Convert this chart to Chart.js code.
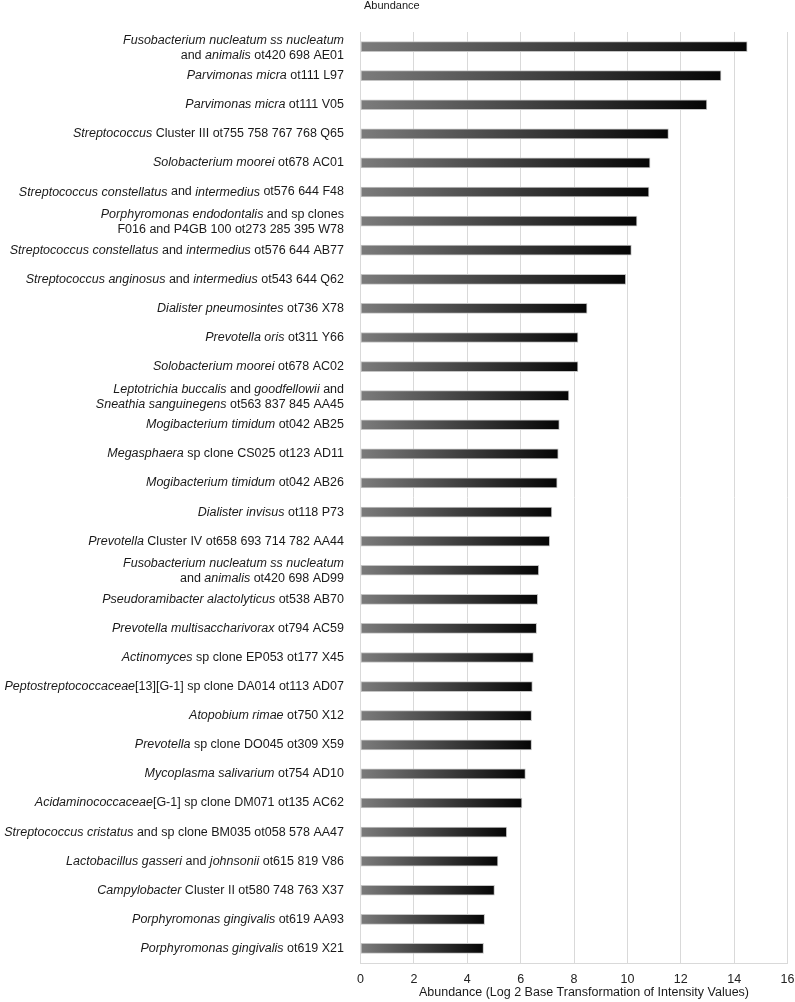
<!DOCTYPE html>
<html>
<head>
<meta charset="utf-8">
<script src="https://cdn.jsdelivr.net/npm/chart.js@4.4.1/dist/chart.umd.min.js"></script>
<style>
  html, body { margin: 0; padding: 0; background: #fff; overflow: hidden; }
  #wrap { width: 795px; height: 1002px; position: relative; }
</style>
</head>
<body>
<div id="wrap"><canvas id="abundanceChart"></canvas></div>
<script>
// Category labels: '|' breaks a line, *text* is italic
const taxa = [
    '*Fusobacterium nucleatum ss nucleatum*|and *animalis* ot420 698 AE01',
    '*Parvimonas micra* ot111 L97',
    '*Parvimonas micra* ot111 V05',
    '*Streptococcus* Cluster III ot755 758 767 768 Q65',
    '*Solobacterium moorei* ot678 AC01',
    '*Streptococcus constellatus* and *intermedius* ot576 644 F48',
    '*Porphyromonas endodontalis* and sp clones|F016 and P4GB 100 ot273 285 395 W78',
    '*Streptococcus constellatus* and *intermedius* ot576 644 AB77',
    '*Streptococcus anginosus* and *intermedius* ot543 644 Q62',
    '*Dialister pneumosintes* ot736 X78',
    '*Prevotella oris* ot311 Y66',
    '*Solobacterium moorei* ot678 AC02',
    '*Leptotrichia buccalis* and *goodfellowii* and|*Sneathia sanguinegens* ot563 837 845 AA45',
    '*Mogibacterium timidum* ot042 AB25',
    '*Megasphaera* sp clone CS025 ot123 AD11',
    '*Mogibacterium timidum* ot042 AB26',
    '*Dialister invisus* ot118 P73',
    '*Prevotella* Cluster IV ot658 693 714 782 AA44',
    '*Fusobacterium nucleatum ss nucleatum*|and *animalis* ot420 698 AD99',
    '*Pseudoramibacter alactolyticus* ot538 AB70',
    '*Prevotella multisaccharivorax* ot794 AC59',
    '*Actinomyces* sp clone EP053 ot177 X45',
    '*Peptostreptococcaceae*[13][G-1] sp clone DA014 ot113 AD07',
    '*Atopobium rimae* ot750 X12',
    '*Prevotella* sp clone DO045 ot309 X59',
    '*Mycoplasma salivarium* ot754 AD10',
    '*Acidaminococcaceae*[G-1] sp clone DM071 ot135 AC62',
    '*Streptococcus cristatus* and sp clone BM035 ot058 578 AA47',
    '*Lactobacillus gasseri* and *johnsonii* ot615 819 V86',
    '*Campylobacter* Cluster II ot580 748 763 X37',
    '*Porphyromonas gingivalis* ot619 AA93',
    '*Porphyromonas gingivalis* ot619 X21'
];

const abundance = [
    14.49, 13.51, 12.98, 11.54, 10.85, 10.81, 10.36, 10.15, 9.94, 8.49, 8.15,
    8.15, 7.81, 7.45, 7.41, 7.37, 7.17, 7.09, 6.68, 6.64, 6.60, 6.48, 6.44,
    6.41, 6.41, 6.18, 6.05, 5.48, 5.15, 5.02, 4.65, 4.61
];

const seriesName = 'Abundance';
const axisTitle = 'Abundance (Log 2 Base Transformation of Intensity Values)';

const FONT = '"Liberation Sans", Arial, Helvetica, sans-serif';

// Bar fill: grey to black along each bar
function barGradient(context) {
    const chart = context.chart;
    const xScale = chart.scales.x;
    if (!chart.chartArea || !xScale) return '#444';
    const x0 = xScale.getPixelForValue(0);
    const x1 = xScale.getPixelForValue(context.raw);
    const g = chart.ctx.createLinearGradient(x0, 0, x1, 0);
    g.addColorStop(0, '#7c7c7c');
    g.addColorStop(1, '#050505');
    return g;
}

// Draws the y labels with italic parts, plus the top and bottom titles
const labelPlugin = {
    id: 'taxaLabels',
    afterDraw(chart) {
        const ctx = chart.ctx;
        const yScale = chart.scales.y;
        const rightX = 344;
        const lineHeight = 15;
        const size = 12.5;

        ctx.save();
        ctx.fillStyle = '#1a1a1a';
        ctx.textBaseline = 'middle';
        ctx.textAlign = 'left';

        taxa.forEach((label, i) => {
            const y = yScale.getPixelForValue(i);
            const lines = label.split('|');
            const top = y - (lines.length - 1) * lineHeight / 2 + (lines.length > 1 ? 1 : 0);
            lines.forEach((line, li) => {
                const parts = line.split('*').map((text, k) => ({ text, italic: k % 2 === 1 }));
                let width = 0;
                parts.forEach(p => {
                    ctx.font = (p.italic ? 'italic ' : '') + size + 'px ' + FONT;
                    p.w = ctx.measureText(p.text).width;
                    width += p.w;
                });
                let x = rightX - width;
                parts.forEach(p => {
                    ctx.font = (p.italic ? 'italic ' : '') + size + 'px ' + FONT;
                    ctx.fillText(p.text, x, top + li * lineHeight);
                    x += p.w;
                });
            });
        });

        // series name at the top
        ctx.font = '11px ' + FONT;
        ctx.fillText(seriesName, 364, 6);

        // x axis title
        ctx.font = '12.5px ' + FONT;
        ctx.textAlign = 'center';
        ctx.fillText(axisTitle, 584, 993);
        ctx.restore();
    }
};

const ctx = document.getElementById('abundanceChart').getContext('2d');
new Chart(ctx, {
    type: 'bar',
    data: {
        labels: taxa,
        datasets: [{
            label: seriesName,
            data: abundance,
            backgroundColor: barGradient,
            borderColor: '#c4c4c4',
            borderWidth: 1,
            borderSkipped: false,
            barThickness: 10
        }]
    },
    options: {
        indexAxis: 'y',
        responsive: true,
        maintainAspectRatio: false,
        animation: false,
        devicePixelRatio: 1,
        layout: {
            padding: { top: 32, right: 7.5, bottom: 0, left: 0 }
        },
        plugins: {
            legend: { display: false },
            tooltip: { enabled: false }
        },
        scales: {
            x: {
                min: 0,
                max: 16,
                ticks: {
                    stepSize: 2,
                    padding: 9,
                    color: '#222',
                    font: { family: FONT, size: 12.5 }
                },
                grid: {
                    color: '#d9d9d9',
                    lineWidth: 1,
                    drawTicks: false
                },
                border: { color: '#d9d9d9' },
                afterFit(scale) {
                    scale.height = 39;
                    scale.paddingRight = 0;
                    scale.paddingLeft = 0;
                }
            },
            y: {
                ticks: { display: false },
                grid: { display: false, drawTicks: false },
                border: { color: '#d9d9d9' },
                afterFit(scale) { scale.width = 360.5; }
            }
        }
    },
    plugins: [labelPlugin]
});
</script>
</body>
</html>
